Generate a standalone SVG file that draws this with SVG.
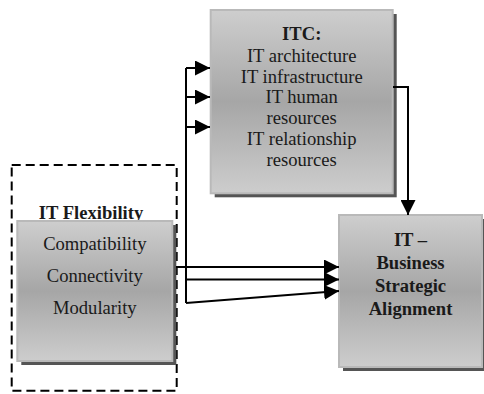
<svg xmlns="http://www.w3.org/2000/svg" width="484" height="394" viewBox="0 0 484 394">
<defs>
<linearGradient id="g" x1="0" y1="0" x2="0" y2="1">
<stop offset="0" stop-color="#cecece"/>
<stop offset="0.5" stop-color="#a6a6a6"/>
<stop offset="1" stop-color="#cdcdcd"/>
</linearGradient>
<marker id="ah" markerUnits="userSpaceOnUse" markerWidth="15" markerHeight="15" refX="15" refY="7.5" orient="auto">
<path d="M0,0 L15,7.5 L0,15 z" fill="#000"/>
</marker>
<style>
.box{fill:url(#g);stroke:#b9b9b9;stroke-width:2}
.sh{fill:#555}
.t{font-family:"Liberation Serif","Times New Roman",serif;font-size:18.6px;fill:#1a1a1a;text-anchor:middle}
.b{font-weight:bold}
.c{fill:none;stroke:#000;stroke-width:2}
</style>
</defs>
<g id="itc">
<rect class="sh" x="214.7" y="14" width="182" height="183.3"/>
<rect class="box" x="210.7" y="10" width="182" height="183.3"/>
<text class="t b" x="301.7" y="40">ITC:</text>
<text class="t" x="301.7" y="62">IT architecture</text>
<text class="t" x="301.7" y="82.5">IT infrastructure</text>
<text class="t" x="301.7" y="103">IT human</text>
<text class="t" x="301.7" y="124">resources</text>
<text class="t" x="301.7" y="145">IT relationship</text>
<text class="t" x="301.7" y="166">resources</text>
</g>
<g id="flex">
<rect x="11.7" y="165" width="165" height="225.7" fill="none" stroke="#000" stroke-width="2" stroke-dasharray="9 5"/>
<text class="t b" x="91" y="219">IT Flexibility</text>
<rect class="sh" x="21.3" y="225" width="155" height="140"/>
<rect class="box" x="17.3" y="221" width="155" height="140"/>
<text class="t" x="94.8" y="250">Compatibility</text>
<text class="t" x="94.8" y="282">Connectivity</text>
<text class="t" x="94.8" y="314">Modularity</text>
</g>
<g id="align">
<rect class="sh" x="343" y="219" width="143" height="152"/>
<rect class="box" x="339" y="215" width="143" height="152"/>
<text class="t b" x="410.5" y="246">IT –</text>
<text class="t b" x="410.5" y="269">Business</text>
<text class="t b" x="410.5" y="292">Strategic</text>
<text class="t b" x="410.5" y="315">Alignment</text>
</g>
<g id="connectors">
<path class="c" d="M186 68 V303"/>
<path class="c" d="M186 68 H210" marker-end="url(#ah)"/>
<path class="c" d="M186 97 H210" marker-end="url(#ah)"/>
<path class="c" d="M186 127 H210" marker-end="url(#ah)"/>
<path class="c" d="M176 267 H339" marker-end="url(#ah)"/>
<path class="c" d="M186 279.5 H339" marker-end="url(#ah)"/>
<path class="c" d="M186 303 L339 291" marker-end="url(#ah)"/>
<path class="c" d="M393 87 H408 V215" marker-end="url(#ah)"/>
</g>
</svg>
